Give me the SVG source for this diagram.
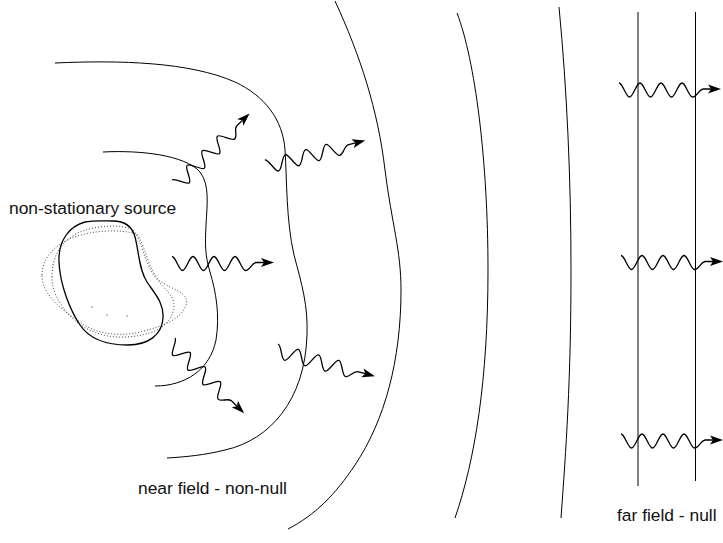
<svg xmlns="http://www.w3.org/2000/svg" xmlns:xlink="http://www.w3.org/1999/xlink" width="723" height="543" viewBox="0 0 723 543">
  <style>
    .line { fill: none; stroke: #000; stroke-width: 1; }
    .wave { fill: none; stroke: #000; stroke-width: 1.3; marker-end: url(#arrow); }
    .blob { fill: none; stroke: #000; stroke-width: 1.3; }
    .ghost { fill: none; stroke: #444; stroke-width: 1; stroke-dasharray: 1 2; }
    .label { font-family: "Liberation Sans", Arial, Helvetica, sans-serif; font-size: 17.4px; fill: #111; }
  </style>
  <defs>
    <marker id="arrow" markerUnits="userSpaceOnUse" viewBox="-4 -6 16 12" markerWidth="16" markerHeight="12" refX="0" refY="0" orient="auto" overflow="visible">
      <path d="M10,0 L-3,-4.5 L0,0 L-3,4.5 Z" fill="#000" stroke="none"/>
    </marker>
    <!-- photon: a sine train with a short curl and an arrowhead -->
    <path id="photon" class="wave" d="M0,-7 C3.8,-7 6.7,7 10.5,7 S17.2,-7 21,-7 S27.7,7 31.5,7 S38.2,-7 42,-7 S48.7,7 52.5,7 S59.2,-7 63,-7 S69.7,7 73.5,7 C78,7 79,0 84,-1 L92,-1"/>
    <path id="body" d="M113,221 C124,221 132,226 135,237 C139,252 139,270 147,282 C155,294 164,303 163,318 C162,335 148,345 128,345 C108,345 90,340 80,325 C70,310 60,285 59,262 C58,240 70,226 85,222 C95,220 105,221 113,221 Z"/>
  </defs>

  <rect width="723" height="543" fill="#fff"/>

  <!-- source and its earlier positions -->
  <g id="source">
    <path class="ghost" d="M42,275 C42,258 55,245 72,238 C92,230 120,229 137,234 C146,247 148,270 160,281 C172,290 190,292 186,305 C182,318 165,326 140,332 C118,337 95,334 80,322 C62,310 42,295 42,275 Z"/>
    <path class="ghost" d="M52,277 C52,255 62,240 80,232 C98,225 122,224 133,230 C142,240 144,262 155,277 C165,290 178,298 173,312 C168,328 150,336 125,337 C102,338 85,330 72,318 C60,306 52,292 52,277 Z"/>
    <use xlink:href="#body" class="blob"/>
    <circle cx="92" cy="307" r="0.6" fill="#000"/>
    <circle cx="107" cy="315" r="0.6" fill="#000"/>
    <circle cx="127" cy="316" r="0.6" fill="#000"/>
  </g>

  <!-- wavefronts -->
  <g id="fronts">
    <path class="line" d="M103,152 C140,150 185,155 200,172 C210,185 207,205 206,225 C205,245 205,255 210,272 C216,292 220,315 216,340 C210,370 185,386 155,386"/>
    <path class="line" d="M55,63 C120,60 190,62 235,82 C265,96 283,120 285,150 C287,180 286,220 294,255 C302,285 308,305 307,335 C305,400 270,440 225,450 C205,455 185,457 167,458"/>
    <path class="line" d="M335,1 C360,55 378,110 385,170 C392,225 401,250 401,290 C401,360 385,420 355,465 C335,495 315,515 288,529"/>
    <path class="line" d="M457,13 C475,60 488,160 488,270 C488,380 475,460 455,518"/>
    <path class="line" d="M559,7 C567,90 571,180 571,270 C571,380 566,450 561,518"/>
    <line class="line" x1="638" y1="12" x2="638" y2="486"/>
    <line class="line" x1="695.5" y1="12" x2="695.5" y2="481"/>
  </g>

  <!-- radiation -->
  <g id="photons">
    <use xlink:href="#photon" transform="translate(176.9,185) rotate(-44)"/>
    <use xlink:href="#photon" transform="translate(172,263.5)"/>
    <use xlink:href="#photon" transform="translate(266.7,166.8) rotate(-14.4)"/>
    <use xlink:href="#photon" transform="translate(170.1,343) rotate(44)"/>
    <use xlink:href="#photon" transform="translate(276.2,350.8) rotate(15)"/>
    <use xlink:href="#photon" transform="translate(619,90)"/>
    <use xlink:href="#photon" transform="translate(621,262.5)"/>
    <use xlink:href="#photon" transform="translate(621,441)"/>
  </g>

  <g id="labels">
    <text class="label" x="9" y="214">non-stationary source</text>
    <text class="label" x="138" y="494">near field - non-null</text>
    <text class="label" x="617" y="521">far field - null</text>
  </g>
</svg>
